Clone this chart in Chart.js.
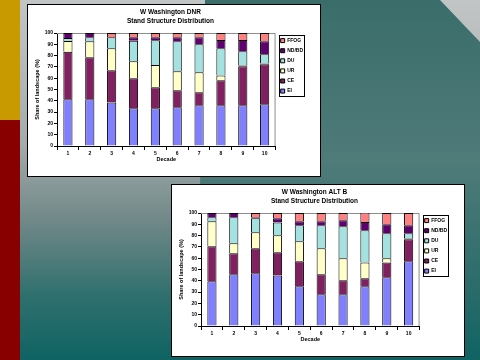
<!DOCTYPE html>
<html>
<head>
<meta charset="utf-8">
<script src="https://cdn.jsdelivr.net/npm/chart.js@4/dist/chart.umd.min.js"></script>
<style>
  body {
    margin: 0; width: 480px; height: 360px; overflow: hidden; position: relative;
    background: linear-gradient(to bottom, #c2c5c5 0%, #a3abab 40%, #6f8787 62%, #2f706e 82%, #0f6363 100%);
    font-family: "Liberation Sans", Arial, sans-serif;
  }
  #teal {
    position: absolute; left: 0; top: 0; width: 480px; height: 360px;
    background: linear-gradient(to bottom, #3a6d6a 0%, #4f7b79 45%, #2a6c6a 80%, #0f6363 100%);
    clip-path: polygon(205px 0, 440px 0, 480px 42px, 480px 360px, 330px 360px, 330px 185px, 200px 185px);
  }
  #stripeTop { position: absolute; left: 0; top: 0; width: 20px; height: 120px; background: #c89a00; }
  #stripeBottom { position: absolute; left: 0; top: 120px; width: 20px; height: 240px; background: #880000; }
  .box { position: absolute; width: 292px; height: 171px; background: #fff; border: 1px solid #000; }
  .box canvas { display: block; }
</style>
</head>
<body>
<div id="teal"></div>
<div id="stripeTop"></div>
<div id="stripeBottom"></div>
<div class="box" style="left:27px; top:4px;"><canvas id="dnr" width="292" height="171"></canvas></div>
<div class="box" style="left:171px; top:184px;"><canvas id="altb" width="292" height="171"></canvas></div>
<script>
// categories and series names
const decades = ["1", "2", "3", "4", "5", "6", "7", "8", "9", "10"];
const classNames = ["EI", "CE", "UR", "DU", "ND/BD", "FFOG"];
const classColors = ["#8080ff", "#802060", "#ffffc8", "#a4e2e2", "#600070", "#ff8080"];

// W Washington DNR (% of landscape per decade)
const dnrEI   = [41.3, 41.3, 38.6, 33.3, 33.3, 34.2, 36.0, 36.0, 36.0, 36.9];
const dnrCE   = [42.2, 37.2, 28.4, 26.6, 18.6, 15.1, 11.5, 22.1, 34.5, 35.4];
const dnrUR   = [9.4, 14.1, 19.4, 15.0, 19.8, 16.8, 17.7, 4.4, 1.0, 0.6];
const dnrDU   = [2.7, 3.6, 9.8, 18.3, 21.8, 26.5, 24.8, 23.9, 12.3, 8.2];
const dnrNDBD = [4.4, 3.8, 0, 3.0, 2.7, 3.6, 6.2, 7.4, 10.0, 11.5];
const dnrFFOG = [0, 0, 3.8, 3.8, 3.8, 3.8, 3.8, 6.2, 6.2, 7.4];

// W Washington ALT B
const altEI   = [39.5, 45.7, 46.6, 44.8, 35.1, 28.0, 28.0, 35.1, 43.1, 57.2];
const altCE   = [31.0, 18.6, 22.1, 20.4, 22.1, 17.7, 12.4, 7.1, 13.2, 19.5];
const altUR   = [22.1, 8.9, 14.2, 15.0, 17.7, 23.0, 19.5, 14.1, 3.6, 1.0];
const altDU   = [3.6, 23.0, 12.4, 11.5, 14.2, 20.4, 28.3, 28.4, 22.1, 4.3];
const altNDBD = [3.8, 3.8, 0.9, 3.6, 3.5, 3.5, 5.3, 7.4, 8.0, 7.1];
const altFFOG = [0, 0, 3.8, 4.7, 7.4, 7.4, 6.5, 8.3, 10.0, 10.9];

const yTicks = { min: 0, max: 100, step: 10 };

// gray frame on top/right of plot, box round the legend
const framePlugin = {
  id: "frame",
  beforeDatasetsDraw(chart) {
    const { ctx, chartArea: a } = chart;
    ctx.save();
    ctx.strokeStyle = "#8c8c8c";
    ctx.lineWidth = 1;
    ctx.beginPath();
    ctx.moveTo(a.left, a.top + 0.5);
    ctx.lineTo(a.right - 0.5, a.top + 0.5);
    ctx.lineTo(a.right - 0.5, a.bottom);
    ctx.stroke();
    ctx.restore();
  },
  afterDraw(chart) {
    const boxes = chart.legend?.legendHitBoxes;
    if (!boxes || !boxes.length) return;
    const ctx = chart.ctx;
    let l = Infinity, t = Infinity, r = -Infinity, b = -Infinity;
    boxes.forEach(h => {
      l = Math.min(l, h.left); t = Math.min(t, h.top);
      r = Math.max(r, h.left + h.width); b = Math.max(b, h.top + h.height);
    });
    ctx.save();
    ctx.strokeStyle = "#000";
    ctx.lineWidth = 1;
    ctx.strokeRect(Math.round(l - 2) + 0.5, Math.round(t - 3) + 0.5, Math.round(r - l + 3), Math.round(b - t + 6));
    ctx.restore();
  }
};

function makeChart(canvasId, titleLines, series) {
  const datasets = series.map((values, i) => ({
    label: classNames[i],
    data: values,
    backgroundColor: classColors[i],
    borderColor: "#000",
    borderWidth: 1,
    barPercentage: 0.42,
    categoryPercentage: 1.0
  }));
  return new Chart(document.getElementById(canvasId), {
    type: "bar",
    data: { labels: decades, datasets: datasets },
    plugins: [framePlugin],
    options: {
      responsive: false,
      animation: false,
      layout: { padding: { left: 0, right: 7, top: 0, bottom: 13.7 } },
      plugins: {
        tooltip: { enabled: false },
        title: {
          display: true,
          text: titleLines,
          color: "#000",
          font: { family: "Liberation Sans", size: 6.5, weight: "bold", lineHeight: 1.4 },
          padding: { top: 3, bottom: 6.8 }
        },
        legend: {
          position: "right",
          align: "start",
          fullSize: false,
          reverse: true,
          labels: {
            color: "#000",
            boxWidth: 4,
            boxHeight: 4,
            padding: 5.1,
            font: { family: "Liberation Sans", size: 5, weight: "bold", lineHeight: 1 }
          }
        }
      },
      scales: {
        x: {
          stacked: true,
          afterFit: s => { s.height = 16.3; },
          grid: { display: true, drawOnChartArea: false, offset: true, tickLength: 4, color: "#000" },
          border: { color: "#000" },
          ticks: { color: "#000", padding: 1, maxRotation: 0, font: { family: "Liberation Sans", size: 5, weight: "bold" } },
          title: { display: true, text: "Decade", color: "#000", padding: 0, font: { family: "Liberation Sans", size: 5.5, weight: "bold" } }
        },
        y: {
          stacked: true,
          min: yTicks.min,
          max: yTicks.max,
          afterFit: s => { s.width = 29; },
          grid: { display: true, drawOnChartArea: false, tickLength: 3, color: "#000" },
          border: { color: "#000" },
          ticks: { stepSize: yTicks.step, color: "#000", padding: 1, font: { family: "Liberation Sans", size: 5, weight: "bold" } },
          title: { display: true, text: "Share of landscape (%)", color: "#000", padding: { top: 6, bottom: 0 }, font: { family: "Liberation Sans", size: 5.5, weight: "bold" } }
        }
      }
    }
  });
}

makeChart("dnr", ["W Washington DNR", "Stand Structure Distribution"],
  [dnrEI, dnrCE, dnrUR, dnrDU, dnrNDBD, dnrFFOG]);
makeChart("altb", ["W Washington ALT B", "Stand Structure Distribution"],
  [altEI, altCE, altUR, altDU, altNDBD, altFFOG]);
</script>
</body>
</html>
